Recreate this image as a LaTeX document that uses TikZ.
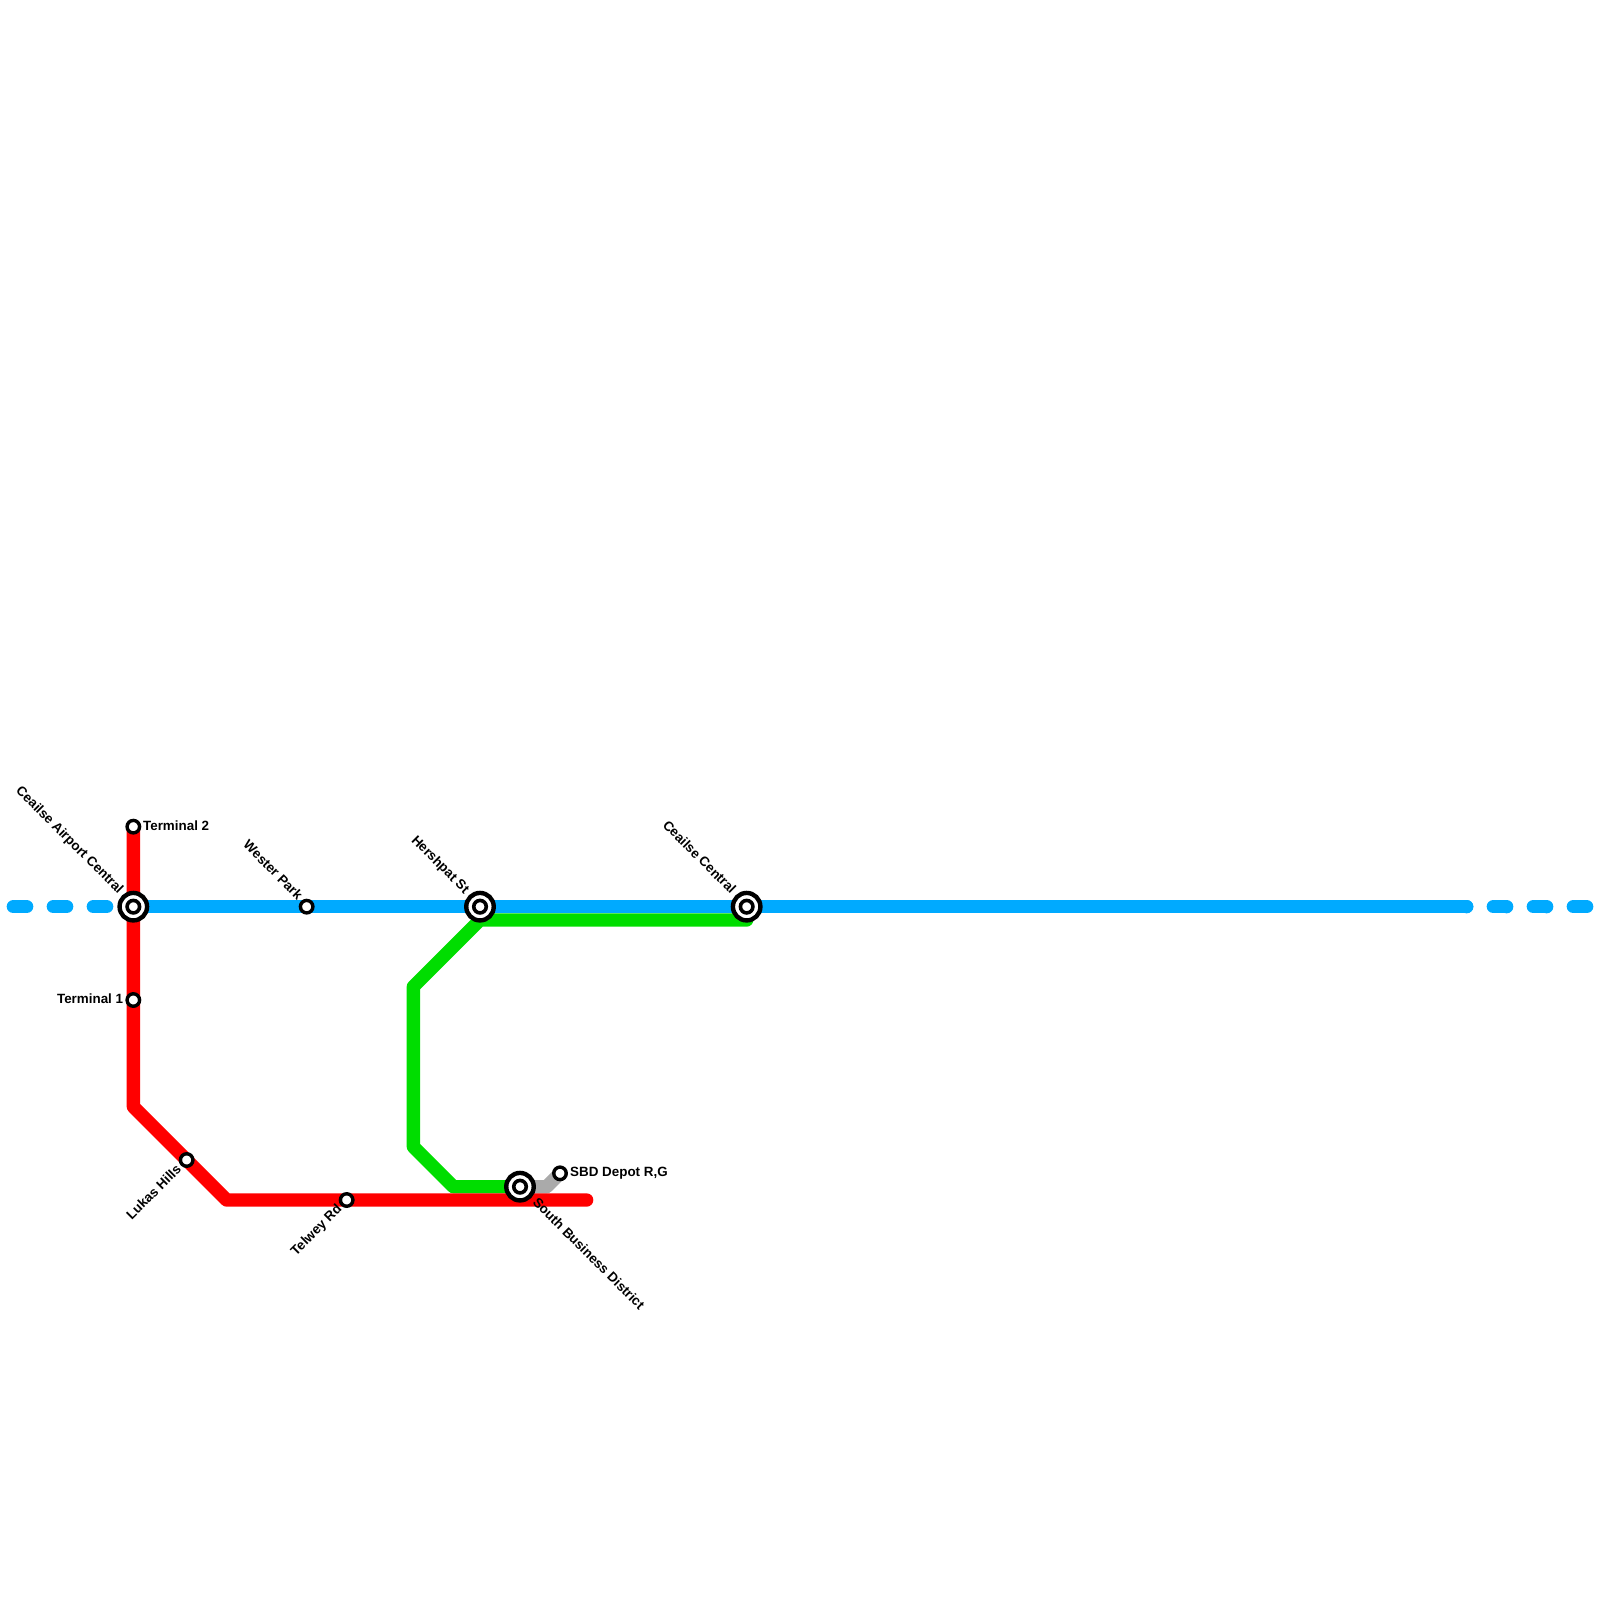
\documentclass[tikz,border=0pt]{standalone}
\usepackage{fontspec}
\setmainfont{Liberation Sans}
\usepackage{tikz}

\begin{document}
\begin{tikzpicture}[x=13.3333pt, y=-13.3333pt,
	every node/.style={font=\fontsize{13.4}{15}\selectfont\bfseries},
	route/.style={line width=13.3333pt, line cap=round, line join=round},
	stop/.style={circle, draw=black, fill=white, line width=3.4pt, minimum size=12.5pt, inner sep=0pt},
	hubring/.style={circle, draw=black, fill=white, line width=4.4pt, minimum size=27.5pt, inner sep=0pt},
	hubcore/.style={circle, draw=black, fill=white, line width=3.6pt, minimum size=12.5pt, inner sep=0pt},
	lbl/.style={inner sep=0pt, text=black}]
	\definecolor{lineblue}{HTML}{00AAFF}
	\definecolor{linered}{HTML}{FF0000}
	\definecolor{linegreen}{HTML}{00DD00}
	\definecolor{linegrey}{HTML}{AAAAAA}
	\useasboundingbox (0,0) rectangle (120,120);
	% stations
	\coordinate (termtwo) at (10,62);
	\coordinate (airport) at (10,68);
	\coordinate (termone) at (10,75);
	\coordinate (lukas) at (14,87);
	\coordinate (telwey) at (26,90);
	\coordinate (wester) at (23,68);
	\coordinate (hershpat) at (36,68);
	\coordinate (central) at (56,68);
	\coordinate (south) at (39,89);
	\coordinate (depot) at (42,88);
	% bends and line ends
	\coordinate (blueleft) at (1,68);
	\coordinate (bluesolid) at (110,68);
	\coordinate (blueright) at (119,68);
	\coordinate (redbendA) at (10,83);
	\coordinate (redbendB) at (17,90);
	\coordinate (redend) at (44,90);
	\coordinate (greenA) at (36,69);
	\coordinate (greenB) at (56,69);
	\coordinate (greenC) at (31,74);
	\coordinate (greenD) at (31,86);
	\coordinate (greenE) at (34,89);
	\coordinate (greybend) at (41,89);
	% lines
	\draw[route, lineblue, dash pattern=on 13.3333pt off 26.6667pt] (blueleft) -- (airport);
	\draw[route, lineblue] (airport) -- (wester) -- (hershpat) -- (central) -- (bluesolid);
	\draw[route, lineblue, dash pattern=on 0pt off 26.6667pt on 13.3333pt off 0pt] (bluesolid) -- (blueright);
	\draw[route, linegrey] (south) -- (greybend) -- (depot);
	\draw[route, linegreen] (greenB) -- (greenA) -- (greenC) -- (greenD) -- (greenE) -- (south);
	\draw[route, linered] (termtwo) -- (airport) -- (termone) -- (redbendA) -- (lukas) -- (redbendB) -- (telwey) -- (redend);
	% stops
	\foreach \s in {termtwo,termone,lukas,telwey,wester,depot} {\node[stop] (\s stop) at (\s) {};}
	\foreach \s in {airport,hershpat,central,south} {
		\node[hubring] (\s ring) at (\s) {};
		\node[hubcore] (\s core) at (\s) {};
	}
	% labels
	\node[lbl, anchor=west] (termtwolabel) at ([shift={(0.72,-0.05)}]termtwo) {Terminal 2};
	\node[lbl, anchor=east] (termonelabel) at ([shift={(-0.75,-0.1)}]termone) {Terminal 1};
	\node[lbl, anchor=west] (depotlabel) at ([shift={(0.75,0)}]depot) {SBD Depot R,G};
	\node[lbl, anchor=east, rotate=-45] (airportlabel) at ([shift={(-0.95,-1.1)}]airport) {Ceailse Airport Central};
	\node[lbl, anchor=east, rotate=-45] (westerlabel) at ([shift={(-0.45,-0.7)}]wester) {Wester Park};
	\node[lbl, anchor=east, rotate=-45] (hershpatlabel) at ([shift={(-1,-1.1)}]hershpat) {Hershpat St};
	\node[lbl, anchor=east, rotate=-45] (centrallabel) at ([shift={(-0.95,-1.15)}]central) {Ceailse Central};
	\node[lbl, anchor=west, rotate=-45] (southlabel) at ([shift={(1.15,1)}]south) {South Business District};
	\node[lbl, anchor=east, rotate=45] (lukaslabel) at ([shift={(-0.6,0.5)}]lukas) {Lukas Hills};
	\node[lbl, anchor=east, rotate=45] (telweylabel) at ([shift={(-0.5,0.55)}]telwey) {Telwey Rd};
\end{tikzpicture}
\end{document}
